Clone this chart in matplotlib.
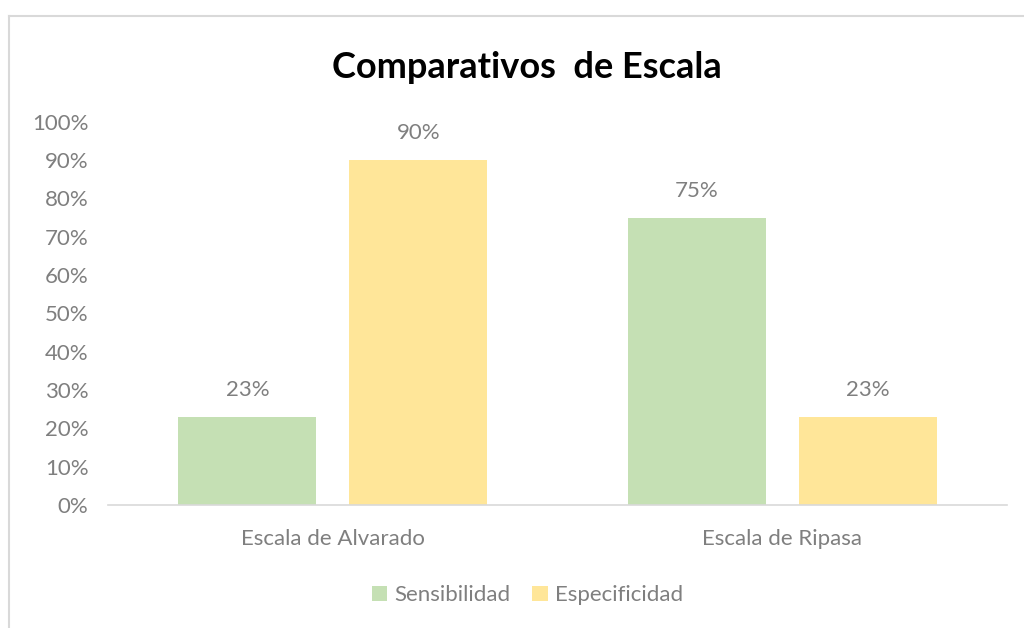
import matplotlib.pyplot as plt
import numpy as np
from matplotlib.lines import Line2D

categories = ["Escala de Alvarado", "Escala de Ripasa"]
sensibilidad = [0.23, 0.75]
especificidad = [0.90, 0.23]
series_names = ["Sensibilidad", "Especificidad"]
yticks = [0, 0.1, 0.2, 0.3, 0.4, 0.5, 0.6, 0.7, 0.8, 0.9, 1.0]

plt.rcParams['font.family'] = ['Lato', 'DejaVu Sans']
gray = "#7f7f7f"
colors = ["#C5E0B4", "#FFE699"]

fig = plt.figure(figsize=(10.24, 6.28), dpi=100)
ax = fig.add_axes([0.1055, 0.196, 0.878, 0.610])

x = np.arange(len(categories))
width = 0.307
offset = 0.19
bars1 = ax.bar(x - offset, sensibilidad, width, color=colors[0], label=series_names[0])
bars2 = ax.bar(x + offset, especificidad, width, color=colors[1], label=series_names[1])

for bars in (bars1, bars2):
    for b in bars:
        ax.annotate(f"{b.get_height()*100:.0f}%", (b.get_x() + b.get_width()/2, b.get_height()),
                    xytext=(0, 12), textcoords="offset points", ha="center", va="bottom",
                    fontsize=16, color=gray)

ax.set_xlim(-0.5, 1.5)
ax.set_ylim(0, 1.0)
ax.set_yticks(yticks)
ax.set_yticklabels([f"{t*100:.0f}%" for t in yticks])
ax.set_xticks(x)
ax.set_xticklabels(categories)
ax.tick_params(axis="y", length=0, labelsize=16, labelcolor=gray, pad=14)
ax.tick_params(axis="x", length=0, labelsize=16, labelcolor=gray, pad=17)
for s in ["top", "right", "left"]:
    ax.spines[s].set_visible(False)
ax.spines["bottom"].set_color("#D9D9D9")
ax.spines["bottom"].set_linewidth(1.2)

fig.text(0.515, 0.893, "Comparativos  de Escala", ha="center", va="center",
         fontsize=26, fontweight="bold", color="black")

fig.legend(handles=[bars1, bars2], labels=series_names, loc="center",
           bbox_to_anchor=(0.515, 0.052), ncol=2, frameon=False, fontsize=16,
           labelcolor=gray, handlelength=0.7, handleheight=0.7, handletextpad=0.3,
           columnspacing=1.0)

# chart frame (cut at right and bottom)
fig.add_artist(Line2D([0.0085, 0.0085], [0, 0.9745], color="#D9D9D9", linewidth=1.5))
fig.add_artist(Line2D([0.0085, 1.0], [0.9745, 0.9745], color="#D9D9D9", linewidth=1.5))

fig.savefig("out.png", dpi=100)
